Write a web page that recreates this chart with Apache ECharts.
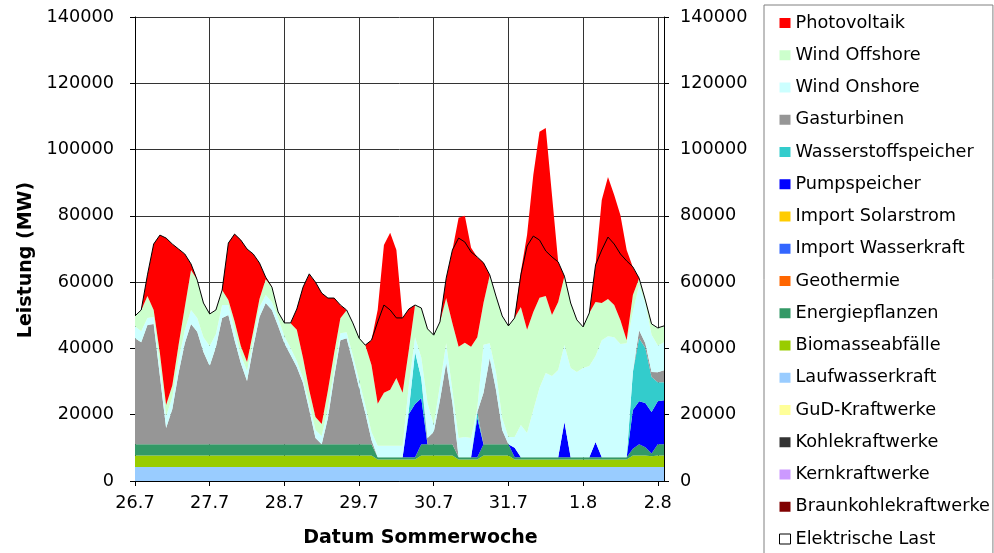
<!DOCTYPE html>
<html><head><meta charset="utf-8">
<script src="https://cdn.jsdelivr.net/npm/echarts@6/dist/echarts.min.js"></script>
<style>html,body{margin:0;padding:0;background:#fff}#c{width:994px;height:553px}</style>
</head><body><div id="c"></div>
<script>
// hours since 26.7 00:00, every 2 hours
const hours = [0,2,4,6,8,10,12,14,16,18,20,22,24,26,28,30,32,34,36,38,40,42,44,46,48,50,52,54,56,58,60,62,64,66,68,70,72,74,76,78,80,82,84,86,88,90,92,94,96,98,100,102,104,106,108,110,112,114,116,118,120,122,124,126,128,130,132,134,136,138,140,142,144,146,148,150,152,154,156,158,160,162,164,166,168,170];
const dayLabels = ['26.7','27.7','28.7','29.7','30.7','31.7','1.8','2.8'];

const load = [49800,51600,62200,71500,74200,73300,71500,70000,68500,65500,60600,53700,
  50400,51600,57600,71800,74500,72700,70000,68500,65800,61500,58500,51000,
  47700,47700,51900,58500,62500,60000,56700,55200,55200,53100,51600,47700,
  43100,41000,42500,48000,53100,51600,49200,49200,51900,53100,52200,45900,
  44000,48000,61200,69700,73300,72100,69100,67600,65800,62200,55800,49800,
  46800,49200,62200,70900,73900,72700,69400,67600,66100,61800,53700,48600,
  46500,50700,65200,69700,73600,71500,68500,66400,64600,61200,54600,47400,
  46200,46800];
const photovoltaik = [0,0,6300,19900,35600,50400,42500,29000,16000,1800,0,0,
  0,0,0,17200,26300,32000,34100,23200,10900,600,0,0,
  0,0,6300,21400,35000,40700,39500,27800,16600,3900,0,0,
  0,0,7500,28400,44600,47400,38600,22600,12400,0,0,0,
  0,0,6000,22000,38900,38300,29900,24100,12100,0,0,0,
  0,0,10600,28700,41300,50100,50700,36200,12100,0,0,0,
  0,0,11200,31100,36800,33200,31700,27200,8400,0,0,0,
  0,0];
const windOffshore = [3000,6300,6600,2100,3600,3300,3600,4500,6900,12100,11500,10300,
  9700,7200,4500,1500,2700,2700,2700,2700,2400,4800,4500,1800,
  3900,7500,9400,6000,3900,3900,3600,5400,5100,4500,6600,9700,
  12700,18100,20200,12700,16000,16900,20500,16000,10600,9700,14800,22300,
  27200,19000,13600,20200,27500,28400,27500,21400,12700,20500,22900,30800,
  33500,35900,35600,31100,29600,27200,23200,18400,20500,20800,19600,15700,
  12400,16000,16300,11200,11200,9700,7200,900,5100,2100,900,3300,
  5100,4800];
const windOnshore = [3600,3300,2100,2100,3300,3600,3600,3900,3900,4200,4200,4500,
  6000,3900,3900,3000,3000,2400,3000,2100,3000,2400,2400,2400,
  2100,2100,1800,1500,2100,2400,2500,3000,2100,2100,1800,2100,
  2400,2400,2400,3400,3400,3400,3400,3400,7500,4500,6300,10600,
  2100,4500,6000,3900,5800,6100,5800,1200,14500,4500,5400,3600,
  2200,3300,9700,7300,14200,20900,25400,24500,26300,23200,26900,25700,
  26900,27500,25900,35300,36500,36200,34100,34400,18100,13600,12100,11200,
  8100,8500];
const gasturbinen = [32000,30800,36000,36300,20600,4900,10600,21500,30500,36300,33900,27800,
  23600,29300,38100,39000,31400,24500,19100,29300,38400,42600,40500,35700,
  30500,26900,23300,18500,10300,1900,0,7900,20300,31400,32000,24800,
  17000,9400,1300,0,0,0,0,0,0,0,0,1900,
  3700,13300,24500,12400,0,0,0,0,15500,26000,16400,4300,
  0,0,0,0,0,0,0,0,0,0,0,0,
  0,0,0,0,0,0,0,0,0,2400,1500,1500,
  3000,3600];
const wasserstoffspeicher = [0,0,0,0,0,0,0,0,0,0,0,0,
  0,0,0,0,0,0,0,0,0,0,0,0,
  0,0,0,0,0,0,0,0,0,0,0,0,
  0,0,0,0,0,0,0,0,1200,15700,6000,0,
  0,0,0,0,0,0,0,1800,0,0,0,0,
  0,0,0,0,0,0,0,0,0,0,0,0,
  0,0,0,0,0,0,0,0,11500,19000,16600,10600,
  5700,5400];
const pumpspeicher = [0,0,0,0,0,0,0,0,0,0,0,0,
  0,0,0,0,0,0,0,0,0,0,0,0,
  0,0,0,0,0,0,0,0,0,0,0,0,
  0,0,0,0,0,0,0,0,13000,16000,13900,0,
  0,0,0,0,0,0,0,11800,0,0,0,0,
  0,2800,0,0,0,0,0,0,0,10600,0,0,
  0,0,4600,0,0,0,0,0,11700,13000,13300,12500,
  13000,13300];
const importSolarstrom = [];
const importWasserkraft = [];
const geothermie = [];
const energiepflanzen = [3400,3400,3400,3400,3400,3400,3400,3400,3400,3400,3400,3400,
  3400,3400,3400,3400,3400,3400,3400,3400,3400,3400,3400,3400,
  3400,3400,3400,3400,3400,3400,3400,3400,3400,3400,3400,3400,
  3400,3400,3400,700,700,700,700,700,700,700,3400,3400,
  3400,3400,3400,3400,700,700,700,700,3400,3400,3400,3400,
  3400,700,700,700,700,700,700,700,700,700,700,700,
  700,700,700,700,700,700,700,700,2000,3400,2500,800,
  3400,3400];
const biomasseabfaelle = [3500,3500,3500,3500,3500,3500,3500,3500,3500,3500,3500,3500,
  3500,3500,3500,3500,3500,3500,3500,3500,3500,3500,3500,3500,
  3500,3500,3500,3500,3500,3500,3500,3500,3500,3500,3500,3500,
  3500,3500,3500,2300,2300,2300,2300,2300,2300,2300,3500,3500,
  3500,3500,3500,3500,2300,2300,2300,2300,3500,3500,3500,3500,
  3500,2300,2300,2300,2300,2300,2300,2300,2300,2300,2300,2300,
  2300,2300,2300,2300,2300,2300,2300,2300,3500,3500,3500,3300,
  3500,3500];
const laufwasserkraft = [4200,4200,4200,4200,4200,4200,4200,4200,4200,4200,4200,4200,
  4200,4200,4200,4200,4200,4200,4200,4200,4200,4200,4200,4200,
  4200,4200,4200,4200,4200,4200,4200,4200,4200,4200,4200,4200,
  4200,4200,4200,4200,4200,4200,4200,4200,4200,4200,4200,4200,
  4200,4200,4200,4200,4200,4200,4200,4200,4200,4200,4200,4200,
  4200,4200,4200,4200,4200,4200,4200,4200,4200,4200,4200,4200,
  4200,4200,4200,4200,4200,4200,4200,4200,4200,4200,4200,4200,
  4200,4200];
const gudKraftwerke = [];
const kohlekraftwerke = [];
const kernkraftwerke = [];
const braunkohlekraftwerke = [];

const FONT = 'DejaVu Sans';

// stacking order bottom -> top
const stackDefs = [
  ['Braunkohlekraftwerke', '#800000', braunkohlekraftwerke],
  ['Kernkraftwerke', '#CC99FF', kernkraftwerke],
  ['Kohlekraftwerke', '#333333', kohlekraftwerke],
  ['GuD-Kraftwerke', '#FFFF99', gudKraftwerke],
  ['Laufwasserkraft', '#99CCFF', laufwasserkraft],
  ['Biomasseabfälle', '#99CC00', biomasseabfaelle],
  ['Energiepflanzen', '#339966', energiepflanzen],
  ['Geothermie', '#FF6600', geothermie],
  ['Import Wasserkraft', '#3366FF', importWasserkraft],
  ['Import Solarstrom', '#FFCC00', importSolarstrom],
  ['Pumpspeicher', '#0000FF', pumpspeicher],
  ['Wasserstoffspeicher', '#33CCCC', wasserstoffspeicher],
  ['Gasturbinen', '#969696', gasturbinen],
  ['Wind Onshore', '#CCFFFF', windOnshore],
  ['Wind Offshore', '#CCFFCC', windOffshore],
  ['Photovoltaik', '#FF0000', photovoltaik]
];

const legendOrder = ['Photovoltaik','Wind Offshore','Wind Onshore','Gasturbinen','Wasserstoffspeicher',
  'Pumpspeicher','Import Solarstrom','Import Wasserkraft','Geothermie','Energiepflanzen',
  'Biomasseabfälle','Laufwasserkraft','GuD-Kraftwerke','Kohlekraftwerke','Kernkraftwerke',
  'Braunkohlekraftwerke','Elektrische Last'];

const series = stackDefs.map(([name, color, data]) => ({
  type: 'line', name, stack: 'total', data,
  symbol: 'none', showSymbol: false,
  lineStyle: { width: 0 },
  areaStyle: { color, opacity: 1 },
  itemStyle: { color },
  emphasis: { disabled: true },
  silent: true
}));
series.push({
  type: 'line', name: 'Elektrische Last', data: load,
  symbol: 'none', showSymbol: false,
  lineStyle: { color: '#000', width: 1 },
  itemStyle: { color: '#fff', borderColor: '#000', borderWidth: 1 },
  emphasis: { disabled: true },
  z: 10, silent: true
});

const isDay = (i) => hours[i] % 24 === 0;

const chart = echarts.init(document.getElementById('c'), null, { renderer: 'canvas' });
chart.setOption({
  animation: false,
  backgroundColor: '#fff',
  grid: { left: 135, right: 330, top: 17, bottom: 72 },
  legend: {
    orient: 'vertical', left: 764, top: 5, height: 700,
    padding: [8, 3, 8, 15], itemGap: 12.25, itemWidth: 11, itemHeight: 10,
    icon: 'rect', borderColor: '#808080', borderWidth: 1,
    selectedMode: false,
    textStyle: { fontFamily: FONT, fontSize: 17.7, color: '#000', lineHeight: 20 },
    data: legendOrder.map(n => n === 'Elektrische Last'
      ? { name: n, itemStyle: { color: '#fff', borderColor: '#000', borderWidth: 1 } }
      : n)
  },
  xAxis: {
    type: 'category', data: hours, boundaryGap: false,
    axisLine: { lineStyle: { color: '#000', width: 1 } },
    axisTick: { show: true, length: 5, interval: isDay, lineStyle: { color: '#000' } },
    axisLabel: {
      interval: isDay, margin: 13, fontFamily: FONT, fontSize: 17.7, color: '#000',
      formatter: (v) => dayLabels[Number(v) / 24]
    },
    splitLine: { show: true, interval: isDay, lineStyle: { color: '#333', width: 1 } },
    name: 'Datum Sommerwoche', nameLocation: 'middle', nameGap: 48,
    nameTextStyle: { fontFamily: FONT, fontWeight: 'bold', fontSize: 19, color: '#000', lineHeight: 19, padding: [0, 0, 0, 42] }
  },
  yAxis: [
    {
      type: 'value', min: 0, max: 140000, interval: 20000, position: 'left',
      axisLine: { show: true, lineStyle: { color: '#000' } },
      axisTick: { show: true, length: 5, lineStyle: { color: '#000' } },
      axisLabel: { margin: 21, fontFamily: FONT, fontSize: 17.7, color: '#000', formatter: (v) => String(v) },
      splitLine: { show: true, lineStyle: { color: '#333', width: 1 } },
      name: 'Leistung (MW)', nameLocation: 'middle', nameGap: 86,
      nameTextStyle: { fontFamily: FONT, fontWeight: 'bold', fontSize: 19, color: '#000', padding: [0, 22, 0, 0] }
    },
    {
      type: 'value', min: 0, max: 140000, interval: 20000, position: 'right',
      axisLine: { show: true, lineStyle: { color: '#000' } },
      axisTick: { show: true, length: 5, lineStyle: { color: '#000' } },
      axisLabel: { margin: 16, fontFamily: FONT, fontSize: 17.7, color: '#000', formatter: (v) => String(v) },
      splitLine: { show: false }
    }
  ],
  series
});
</script>
</body></html>
